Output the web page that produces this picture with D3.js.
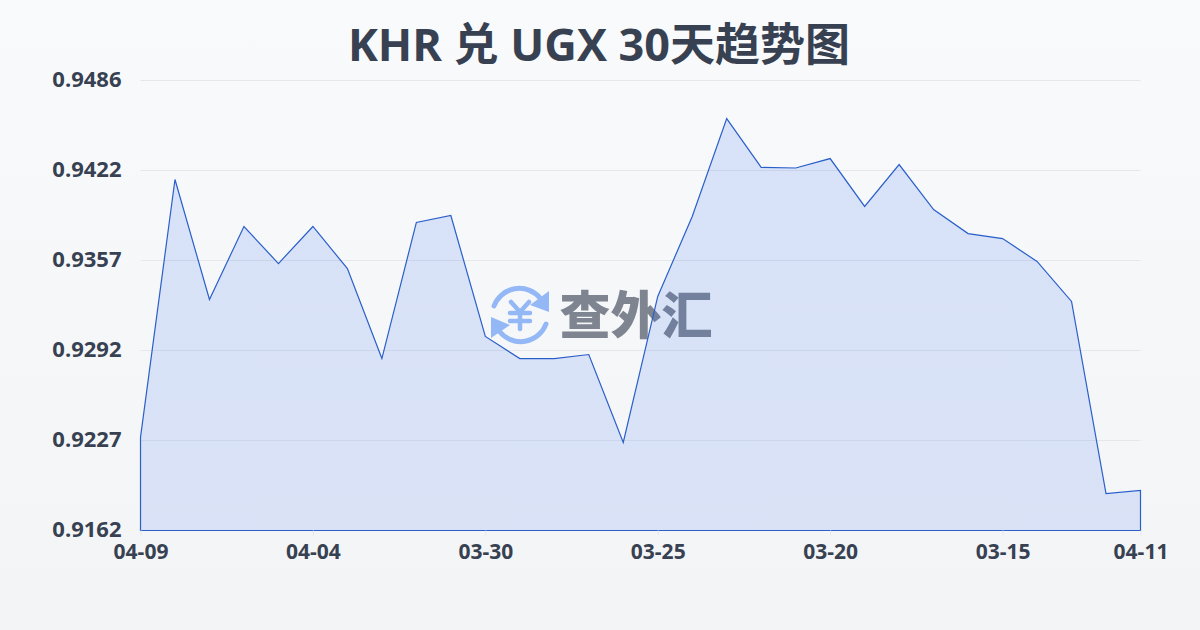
<!DOCTYPE html>
<html>

<head>
    <meta charset="utf-8">
    <script src="https://cdnjs.cloudflare.com/ajax/libs/d3/7.1.1/d3.min.js"></script>
    <style>
        html, body { margin: 0; padding: 0; }
        svg { display: block; }
        text { font-family: "Open Sans", "Noto Sans CJK SC", sans-serif; }
    </style>
</head>

<body>
    <script>
        const titleText = 'KHR 兑 UGX 30天趋势图';

        const dates = [
            '04-09', '04-08', '04-07', '04-06', '04-05', '04-04', '04-03', '04-02', '04-01', '03-31',
            '03-30', '03-29', '03-28', '03-27', '03-26', '03-25', '03-24', '03-23', '03-22', '03-21',
            '03-20', '03-19', '03-18', '03-17', '03-16', '03-15', '03-14', '03-13', '03-12', '04-11'
        ];
        const rates = [
            0.92290, 0.94147, 0.93283, 0.93809, 0.93542, 0.93809, 0.93506, 0.92858, 0.93838, 0.93888,
            0.93017, 0.92858, 0.92858, 0.92887, 0.92254, 0.93305, 0.93881, 0.94586, 0.94234, 0.94230,
            0.94298, 0.93953, 0.94255, 0.93931, 0.93758, 0.93722, 0.93557, 0.93269, 0.91886, 0.91908
        ];
        const xTickLabels = ['04-09', '04-04', '03-30', '03-25', '03-20', '03-15', '04-11'];
        const yTickLabels = ['0.9162', '0.9227', '0.9292', '0.9357', '0.9422', '0.9486'];
        const yMin = 0.9162;
        const yMax = 0.9486;

        const width = 1200;
        const height = 630;
        const margin = { top: 80.5, right: 59.5, bottom: 99.5, left: 140.5 };

        const svg = d3.select('body').append('svg')
            .attr('width', width)
            .attr('height', height);

        const defs = svg.append('defs');
        const bgGrad = defs.append('linearGradient')
            .attr('id', 'bg').attr('x1', 0).attr('y1', 0).attr('x2', 0).attr('y2', 1);
        bgGrad.append('stop').attr('offset', '0%').attr('stop-color', '#f8fafc');
        bgGrad.append('stop').attr('offset', '100%').attr('stop-color', '#f3f4f6');

        svg.append('rect')
            .attr('width', width)
            .attr('height', height)
            .attr('fill', 'url(#bg)');

        svg.append('text')
            .attr('x', width / 2 - 1)
            .attr('y', 61)
            .attr('text-anchor', 'middle')
            .attr('font-size', 45)
            .attr('font-weight', 700)
            .attr('fill', '#374151')
            .text(titleText);

        const x = d3.scalePoint()
            .domain(dates)
            .range([margin.left, width - margin.right]);
        const y = d3.scaleLinear()
            .domain([yMin, yMax])
            .range([height - margin.bottom, margin.top]);

        // evenly spaced ticks, the printed labels are rounded
        const yTicks = yTickLabels.map((d, i) => yMin + (yMax - yMin) * i / (yTickLabels.length - 1));

        // grid
        svg.append('g')
            .selectAll('line')
            .data(yTicks)
            .enter().append('line')
            .attr('x1', margin.left)
            .attr('x2', width - margin.right)
            .attr('y1', d => y(d))
            .attr('y2', d => y(d))
            .attr('stroke', '#e5e7eb')
            .attr('stroke-width', 1);

        // watermark
        const mark = svg.append('g');
        const icon = mark.append('g')
            .attr('transform', 'translate(520, 315)')
            .attr('fill', 'none')
            .attr('stroke', '#93b8f5')
            .attr('stroke-linecap', 'round');
        icon.append('path')
            .attr('d', 'M-26,-9 A27,27 0 0 1 20,-17')
            .attr('stroke-width', 5);
        icon.append('path')
            .attr('d', 'M26,9 A27,27 0 0 1 -20,17')
            .attr('stroke-width', 5);
        icon.append('path')
            .attr('d', 'M29,-24 L29,-3 L10,-10 Z')
            .attr('fill', '#93b8f5')
            .attr('stroke', 'none');
        icon.append('path')
            .attr('d', 'M-29,23 L-29,2 L-10,10 Z')
            .attr('fill', '#93b8f5')
            .attr('stroke', 'none');
        icon.append('path')
            .attr('d', 'M-9,-13 L0,-3 L9,-13 M-10,-2 H10 M-10,6 H10 M0,-3 V14')
            .attr('stroke-width', 4.5);
        mark.append('text')
            .attr('x', 636)
            .attr('y', 334)
            .attr('text-anchor', 'middle')
            .attr('font-size', 51)
            .attr('font-weight', 900)
            .attr('fill', '#7f8590')
            .text('查外汇');

        // area
        const fillGrad = defs.append('linearGradient')
            .attr('id', 'areaFill').attr('x1', 0).attr('y1', 0).attr('x2', 0).attr('y2', 1);
        fillGrad.append('stop').attr('offset', '0%').attr('stop-color', '#2563eb').attr('stop-opacity', 0.15);
        fillGrad.append('stop').attr('offset', '100%').attr('stop-color', '#2563eb').attr('stop-opacity', 0.13);

        const area = d3.area()
            .x((d, i) => x(dates[i]))
            .y0(y(yMin))
            .y1(d => y(d));

        svg.append('path')
            .datum(rates)
            .attr('d', area)
            .attr('fill', 'url(#areaFill)')
            .attr('stroke', '#2a5fc9')
            .attr('stroke-width', 1.2);

        // axes
        const yAxis = d3.axisLeft(y)
            .tickValues(yTicks)
            .tickFormat((d, i) => yTickLabels[i])
            .tickSize(0)
            .tickPadding(19);
        const yG = svg.append('g')
            .attr('transform', `translate(${margin.left}, -1)`)
            .call(yAxis);
        yG.select('.domain').remove();
        yG.selectAll('text')
            .attr('font-size', 22)
            .attr('font-weight', 700)
            .attr('fill', '#374151');

        const xAxis = d3.axisBottom(x)
            .tickValues(xTickLabels)
            .tickSize(5)
            .tickPadding(9);
        const xG = svg.append('g')
            .attr('transform', `translate(0, ${height - margin.bottom})`)
            .call(xAxis);
        xG.select('.domain').remove();
        xG.selectAll('line').attr('stroke', '#e5e7eb');
        xG.selectAll('text')
            .attr('font-size', 21)
            .attr('font-weight', 700)
            .attr('fill', '#374151');
    </script>
</body>

</html>
